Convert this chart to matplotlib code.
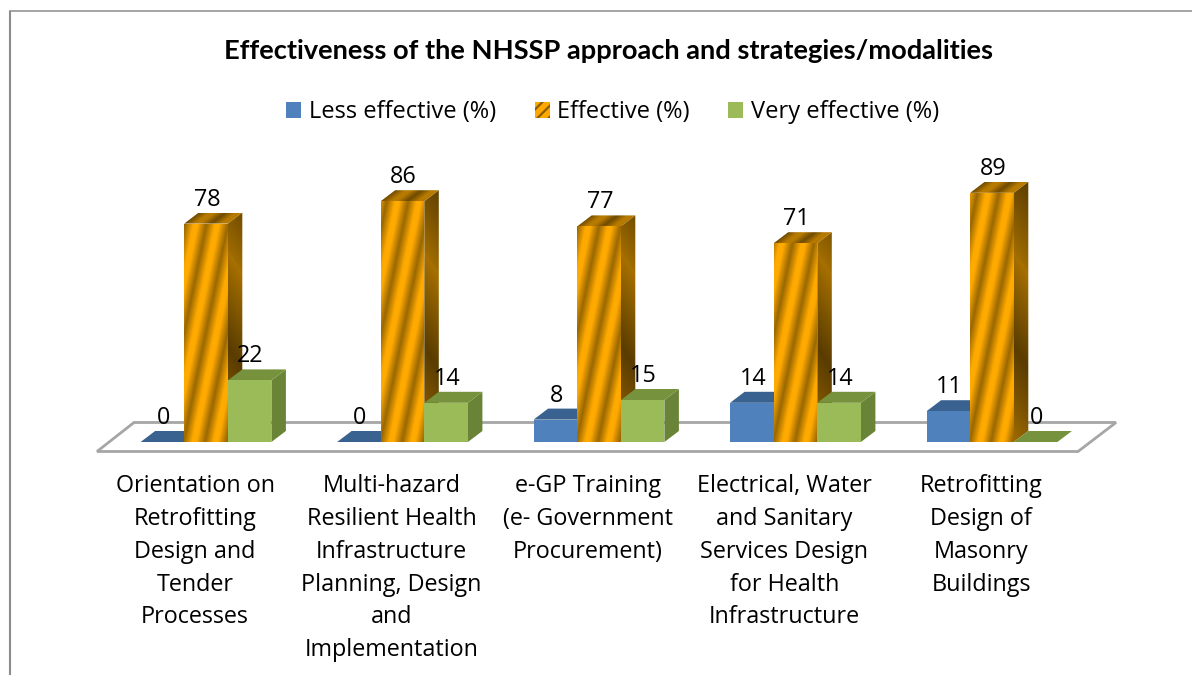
import numpy as np
import matplotlib
matplotlib.use("Agg")
import matplotlib.pyplot as plt
from matplotlib.patches import Polygon, Patch
from matplotlib.colors import LinearSegmentedColormap

plt.rcParams['font.family'] = ['Open Sans', 'DejaVu Sans']
plt.rcParams['hatch.linewidth'] = 1.6

title = "Effectiveness of the NHSSP approach and strategies/modalities"
categories = [
    "Orientation on\nRetrofitting\nDesign and\nTender\nProcesses",
    "Multi-hazard\nResilient Health\nInfrastructure\nPlanning, Design\nand\nImplementation",
    "e-GP Training\n(e- Government\nProcurement)",
    "Electrical, Water\nand Sanitary\nServices Design\nfor Health\nInfrastructure",
    "Retrofitting\nDesign of\nMasonry\nBuildings",
]
series_names = ["Less effective (%)", "Effective (%)", "Very effective (%)"]
less_effective = [0, 0, 8, 14, 11]
effective = [78, 86, 77, 71, 89]
very_effective = [22, 14, 15, 14, 0]

W, H = 1192, 675
PITCH = 196.5      # px per category
UNIT = 2.8         # px per percent
X0, Y0 = 206, 442  # pixel position of first category / zero line
BW = 43.6 / PITCH
DX, DY = 14.5 / PITCH, 11 / UNIT

fig = plt.figure(figsize=(W / 100, H / 100), dpi=100, facecolor='white')
ax = fig.add_axes([0, 0, 1, 1])
ax.set_xlim(-X0 / PITCH, (W - X0) / PITCH)
ax.set_ylim(-(H - Y0) / UNIT, Y0 / UNIT)
ax.axis('off')

def px(x, y):
    return (x - X0) / PITCH, (Y0 - y) / UNIT

# outer frame: only the left and top edges are inside the picture
ax.plot(*zip(px(10, 676), px(10, 10.5)), color='#8c8c8c', lw=1.5, zorder=0, solid_capstyle='butt')
ax.plot(*zip(px(9, 10.5), px(1193, 10.5)), color='#8c8c8c', lw=1.1, zorder=0, solid_capstyle='butt')

# floor
floor = Polygon([px(97, 451.5), px(1078, 451.5), px(1116, 422.5), px(134, 422.5)],
                closed=True, fc='white', ec='#a6a6a6', lw=2.0, zorder=1, joinstyle='miter')
ax.add_patch(floor)

stripe = LinearSegmentedColormap.from_list('st', ['#9a6800', '#cc8800', '#ffaa00', '#ffaa00', '#cc8800', '#9a6800'])
shade = LinearSegmentedColormap.from_list('sh', ['#a06c00', '#7a5200', '#5a3c00', '#7f5600', '#a87000'])

def textured(poly, kind, z):
    xs, ys = zip(*poly)
    patch = Polygon(poly, closed=True, fc='none', ec='none', zorder=z)
    ax.add_patch(patch)
    x0, x1, y0, y1 = min(xs), max(xs), min(ys), max(ys)
    nx = max(2, int((x1 - x0) * PITCH))
    ny = max(2, int((y1 - y0) * UNIT))
    gx, gy = np.meshgrid((np.arange(nx) + .5) / PITCH, (np.arange(ny) + .5) / UNIT)
    if kind == 'front':
        phase = (gx * PITCH - gy * UNIT * 0.2) / 21.0 + 0.02
        img = stripe(phase % 1.0)[..., :3]
    elif kind == 'top':
        phase = (gx * PITCH - gy * UNIT * 1.3) / 26.0
        img = stripe(phase % 1.0)[..., :3] * 0.72
    else:
        phase = (gy * UNIT) / 190.0 + gx * PITCH / 120.0
        img = shade(phase % 1.0)[..., :3]
    im = ax.imshow(img, extent=(x0, x1, y0, y1), origin='lower', aspect='auto',
                   zorder=z, interpolation='bilinear')
    im.set_clip_path(patch)

def bar3d(xc, v, front, top, side):
    l, r = xc - BW / 2, xc + BW / 2
    f = [(l, 0), (r, 0), (r, v), (l, v)]
    t = [(l, v), (r, v), (r + DX, v + DY), (l + DX, v + DY)]
    s = [(r, 0), (r + DX, DY), (r + DX, v + DY), (r, v)]
    z = 3 + xc * 0.001
    if front is None:
        textured(s, 'side', z)
        textured(t, 'top', z + .01)
        textured(f, 'front', z + .02)
    else:
        ax.add_patch(Polygon(s, closed=True, fc=side, ec='none', zorder=z))
        ax.add_patch(Polygon(t, closed=True, fc=top, ec='none', zorder=z + .01))
        ax.add_patch(Polygon(f, closed=True, fc=front, ec='none', zorder=z + .02))

OFFS = [-BW, 0, BW]
LAB = 24.0 / UNIT
FS = 16.8
for i in range(len(categories)):
    bar3d(i + OFFS[0], less_effective[i], '#4f81bd', '#3a6291', '#35597f')
    bar3d(i + OFFS[1], effective[i], None, None, None)
    bar3d(i + OFFS[2], very_effective[i], '#9bbb59', '#76923c', '#6a8437')
    for off, vals in zip(OFFS, (less_effective, effective, very_effective)):
        ax.text(i + off + 1 / PITCH, vals[i] + LAB, str(vals[i]), ha='center', va='center',
                fontsize=FS, color='black', zorder=10)
    ax.text(i - 11 / PITCH, (Y0 - 474) / UNIT, categories[i], ha='center', va='top',
            fontsize=FS, color='black', linespacing=1.493, zorder=10)

ax.text(*px(608, 51), title, ha='center', va='center', fontsize=19.6,
        fontweight='bold', color='black', family=['Lato', 'DejaVu Sans'])

handles = [Patch(fc='#4f81bd', ec='none', lw=0),
           Patch(fc='#ffa800', ec='#8a5c00', hatch='///', lw=0),
           Patch(fc='#9bbb59', ec='none', lw=0)]
leg = ax.legend(handles, series_names, ncols=3, loc='center',
                bbox_to_anchor=(612.5 / W, 1 - 112.5 / H), frameon=False, fontsize=17.0,
                handlelength=0.64, handleheight=0.64, handletextpad=0.3, columnspacing=1.65,
                borderpad=0, borderaxespad=0)

fig.savefig('out.png', dpi=100)
